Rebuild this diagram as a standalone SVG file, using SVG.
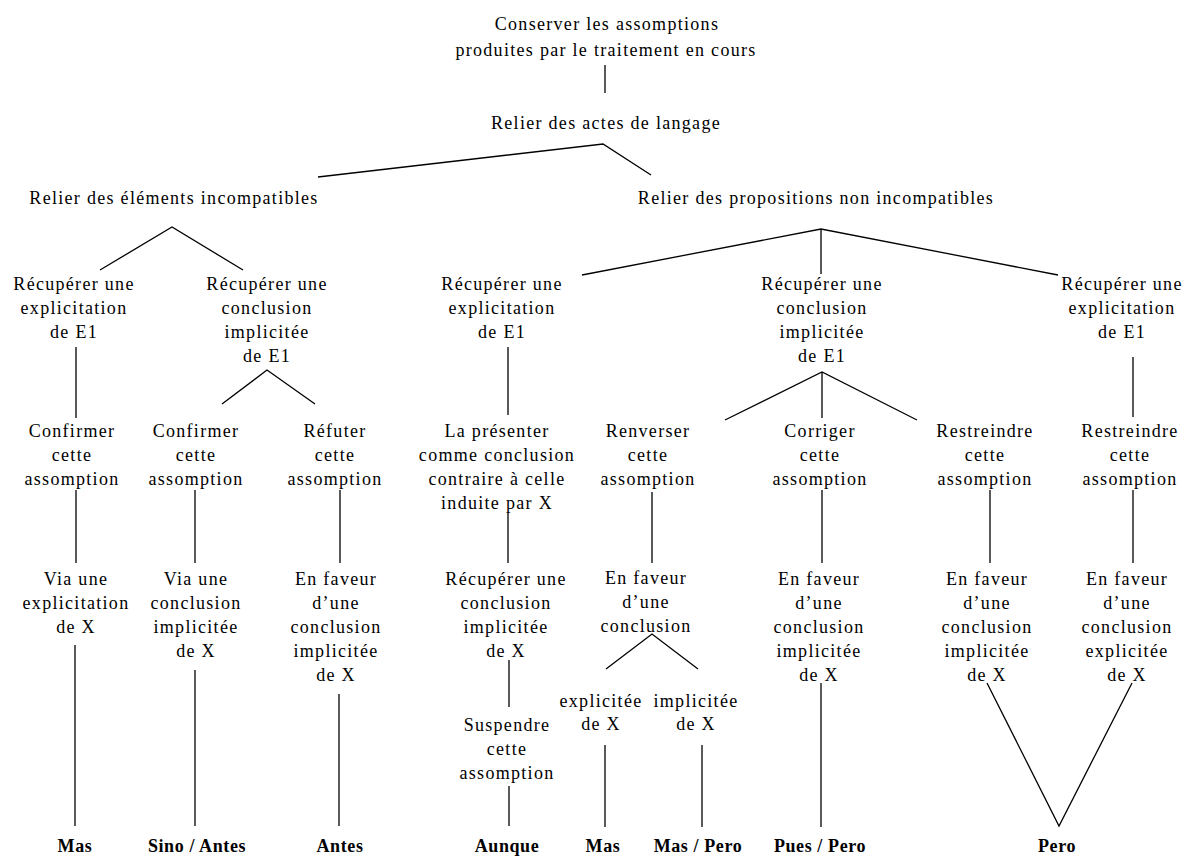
<svg xmlns="http://www.w3.org/2000/svg" width="1185" height="858" viewBox="0 0 1185 858">
  <style>
    text { font-family: "Liberation Serif", "Times New Roman", serif; font-size: 18px; letter-spacing: 1.3px; fill: #000; text-anchor: middle; }
    text.leaf { font-weight: bold; letter-spacing: 0.6px; }
    .edge { fill: none; stroke: #000; stroke-width: 1.3; }
  </style>
  <rect width="1185" height="858" fill="#fff"/>

  <!-- connectors -->
  <g id="connectors" class="edge">
    <path d="M605 65 V93"/>
    <path d="M318 177 L603 144 L651 175"/>
    <path d="M100 270 L172 227 L243 270"/>
    <path d="M582 275 L821 229 L1058 275 M821 229 V274"/>
    <path d="M76 347 V418"/>
    <path d="M222 404 L267 370 L315 404"/>
    <path d="M508 347 V415"/>
    <path d="M725 420 L822 372 L917 420 M822 372 V418"/>
    <path d="M1133 357 V417"/>
    <path d="M76 490 V563"/>
    <path d="M195 490 V563"/>
    <path d="M340 490 V563"/>
    <path d="M508 513 V563"/>
    <path d="M652 492 V563"/>
    <path d="M822 490 V563"/>
    <path d="M990 490 V563"/>
    <path d="M1133 490 V563"/>
    <path d="M75 645 V826"/>
    <path d="M195 670 V826"/>
    <path d="M339 694 V826"/>
    <path d="M509 660 V707"/>
    <path d="M509 786 V826"/>
    <path d="M606 669 L652 634 L698 669"/>
    <path d="M605 745 V827"/>
    <path d="M702 745 V827"/>
    <path d="M821 683 V827"/>
    <path d="M987 683 L1059 826 L1132 683"/>
  </g>

  <!-- level 0-2 -->
  <g id="n-root"><text x="607" y="30">Conserver les assomptions</text><text x="606" y="56">produites par le traitement en cours</text></g>
  <g id="n-actes"><text x="606" y="129">Relier des actes de langage</text></g>
  <g id="n-incomp"><text x="174" y="204">Relier des éléments incompatibles</text></g>
  <g id="n-nonincomp"><text x="816" y="204">Relier des propositions non incompatibles</text></g>

  <!-- level 3 -->
  <g id="n-a1"><text x="74" y="290">Récupérer une</text><text x="74" y="314">explicitation</text><text x="74" y="338">de E1</text></g>
  <g id="n-a2"><text x="267" y="290">Récupérer une</text><text x="267" y="314">conclusion</text><text x="267" y="338">implicitée</text><text x="267" y="362">de E1</text></g>
  <g id="n-b1"><text x="502" y="290">Récupérer une</text><text x="502" y="314">explicitation</text><text x="502" y="338">de E1</text></g>
  <g id="n-b2"><text x="822" y="290">Récupérer une</text><text x="822" y="314">conclusion</text><text x="822" y="338">implicitée</text><text x="822" y="362">de E1</text></g>
  <g id="n-b3"><text x="1122" y="290">Récupérer une</text><text x="1122" y="314">explicitation</text><text x="1122" y="338">de E1</text></g>

  <!-- level 4 -->
  <g id="n-a1-conf"><text x="72" y="437">Confirmer</text><text x="72" y="461">cette</text><text x="72" y="485">assomption</text></g>
  <g id="n-a2-conf"><text x="196" y="437">Confirmer</text><text x="196" y="461">cette</text><text x="196" y="485">assomption</text></g>
  <g id="n-a2-ref"><text x="335" y="437">Réfuter</text><text x="335" y="461">cette</text><text x="335" y="485">assomption</text></g>
  <g id="n-b1-pres"><text x="497" y="437">La présenter</text><text x="497" y="461">comme conclusion</text><text x="497" y="485">contraire à celle</text><text x="497" y="509">induite par X</text></g>
  <g id="n-b2-renv"><text x="648" y="437">Renverser</text><text x="648" y="461">cette</text><text x="648" y="485">assomption</text></g>
  <g id="n-b2-corr"><text x="820" y="437">Corriger</text><text x="820" y="461">cette</text><text x="820" y="485">assomption</text></g>
  <g id="n-b2-restr"><text x="985" y="437">Restreindre</text><text x="985" y="461">cette</text><text x="985" y="485">assomption</text></g>
  <g id="n-b3-restr"><text x="1130" y="437">Restreindre</text><text x="1130" y="461">cette</text><text x="1130" y="485">assomption</text></g>

  <!-- level 5 -->
  <g id="n-via-expl"><text x="76" y="585">Via une</text><text x="76" y="609">explicitation</text><text x="76" y="633">de X</text></g>
  <g id="n-via-concl"><text x="196" y="585">Via une</text><text x="196" y="609">conclusion</text><text x="196" y="633">implicitée</text><text x="196" y="657">de X</text></g>
  <g id="n-fav-impl-1"><text x="336" y="585">En faveur</text><text x="336" y="609">d’une</text><text x="336" y="633">conclusion</text><text x="336" y="657">implicitée</text><text x="336" y="681">de X</text></g>
  <g id="n-recup-x"><text x="506" y="585">Récupérer une</text><text x="506" y="609">conclusion</text><text x="506" y="633">implicitée</text><text x="506" y="657">de X</text></g>
  <g id="n-fav-concl"><text x="646" y="584">En faveur</text><text x="646" y="608">d’une</text><text x="646" y="632">conclusion</text></g>
  <g id="n-fav-impl-2"><text x="819" y="585">En faveur</text><text x="819" y="609">d’une</text><text x="819" y="633">conclusion</text><text x="819" y="657">implicitée</text><text x="819" y="681">de X</text></g>
  <g id="n-fav-impl-3"><text x="987" y="585">En faveur</text><text x="987" y="609">d’une</text><text x="987" y="633">conclusion</text><text x="987" y="657">implicitée</text><text x="987" y="681">de X</text></g>
  <g id="n-fav-expl"><text x="1127" y="585">En faveur</text><text x="1127" y="609">d’une</text><text x="1127" y="633">conclusion</text><text x="1127" y="657">explicitée</text><text x="1127" y="681">de X</text></g>

  <!-- level 6 -->
  <g id="n-expl-x"><text x="601" y="707">explicitée</text><text x="601" y="730">de X</text></g>
  <g id="n-impl-x"><text x="696" y="707">implicitée</text><text x="696" y="730">de X</text></g>
  <g id="n-susp"><text x="507" y="731">Suspendre</text><text x="507" y="755">cette</text><text x="507" y="779">assomption</text></g>

  <!-- connectives -->
  <g id="n-mas-1"><text class="leaf" x="75" y="852">Mas</text></g>
  <g id="n-sino-antes"><text class="leaf" x="197" y="852">Sino / Antes</text></g>
  <g id="n-antes"><text class="leaf" x="340" y="852">Antes</text></g>
  <g id="n-aunque"><text class="leaf" x="507" y="852">Aunque</text></g>
  <g id="n-mas-2"><text class="leaf" x="603" y="852">Mas</text></g>
  <g id="n-mas-pero"><text class="leaf" x="698" y="852">Mas / Pero</text></g>
  <g id="n-pues-pero"><text class="leaf" x="820" y="852">Pues / Pero</text></g>
  <g id="n-pero"><text class="leaf" x="1057" y="852">Pero</text></g>
</svg>
